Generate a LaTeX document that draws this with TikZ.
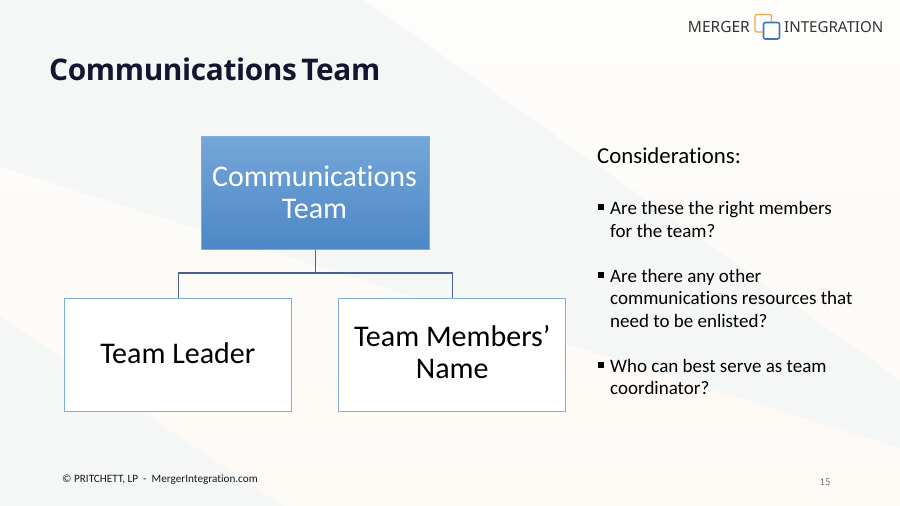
\documentclass[tikz,border=0pt]{standalone}
\usepackage{fontspec}
\setmainfont[Ligatures=NoCommon]{Carlito}
\newfontfamily\sansf[LetterSpace=-1.2,WordSpace=0.6]{Open Sans}
\newfontfamily\logof{Noto Sans}
\definecolor{bggrey}{HTML}{F5F6F6}
\definecolor{bgtop}{HTML}{FDFDFB}
\definecolor{bgbot}{HTML}{FDF9F5}
\definecolor{titlec}{HTML}{14152F}
\definecolor{boxedge}{HTML}{7FAEDD}
\definecolor{linkc}{HTML}{4A6291}
\definecolor{topgrad}{HTML}{75A6D8}
\definecolor{midgrad}{HTML}{5C9AD6}
\definecolor{botgrad}{HTML}{4C87C6}
\definecolor{logoorange}{HTML}{F5A94A}
\definecolor{logoblue}{HTML}{3F79B5}
\tikzset{
  x=1pt,y=-1pt,
  boxlabel/.style={inner sep=0pt,align=center,font=\fontsize{30}{32.5}\selectfont},
  whitebox/.style={draw=boxedge,line width=1pt,fill=white,minimum width=227pt,minimum height=113pt,inner sep=0pt},
  topbox/.style={draw=boxedge,line width=1pt,top color=topgrad,middle color=midgrad,bottom color=botgrad,minimum width=228pt,minimum height=113pt,inner sep=0pt},
  link/.style={draw=linkc,line width=1.1pt},
  bodytext/.style={anchor=north west,inner sep=0pt,align=left,font=\fontsize{19}{22.5}\selectfont,text=black},
  bullet/.style={fill=black,minimum size=5.5pt,inner sep=0pt}
}
\begin{document}
\begin{tikzpicture}
\useasboundingbox (0,0) rectangle (900,506);
\shade[top color=bgtop,bottom color=bgbot] (0,0) rectangle (900,506);
\fill[bggrey] (0,0) -- (364,0) -- (900,380) -- (900,448) -- (0,167) -- cycle;
\fill[bggrey] (0,317) -- (283,506) -- (0,506) -- cycle;
\node[anchor=west,inner sep=0pt,font=\sansf\bfseries\fontsize{29.8}{33}\selectfont,text=titlec] (title) at (49,69) {Communications Team};
\node[topbox,label={[boxlabel,text=white,xshift=-1pt,yshift=0.5pt]center:Communications\\Team}] (top) at (315.5,193) {};
\node[whitebox,label={[boxlabel,text=black,xshift=-0.5pt,yshift=1.5pt]center:Team Leader}] (lead) at (178.3,354.5) {};
\node[whitebox,label={[boxlabel,text=black,yshift=2.5pt]center:Team Members’\\Name}] (memb) at (452.2,354.5) {};
\coordinate (hub) at (315.5,273);
\draw[link] (top.south) -- (hub);
\draw[link] (lead.north) |- (hub) -| (memb.north);
\node[bodytext,font=\fontsize{22.8}{26}\selectfont] (cons) at (597,147.5) {Considerations:};
\node[bullet] (b1) at (601,207) {};
\node[bodytext] (t1) at (610,201.5) {Are these the right members\\for the team?};
\node[bullet] (b2) at (601,275) {};
\node[bodytext] (t2) at (610,269) {Are there any other\\communications resources that\\need to be enlisted?};
\node[bullet] (b3) at (601,365) {};
\node[bodytext] (t3) at (610,359) {Who can best serve as team\\coordinator?};
\node[anchor=west,inner sep=0pt,font=\fontsize{11.2}{14}\selectfont,text=black!90] (foot) at (62,479.5) {© PRITCHETT, LP\ \ -\ \ MergerIntegration.com};
\node[inner sep=0pt,font=\fontsize{10.5}{12}\selectfont,text=black!55] (page) at (825,482.5) {15};
\node[anchor=east,inner sep=0pt,font=\logof\fontsize{15.5}{18}\selectfont,text=black!80] (lg1) at (750,27) {MERGER};
\node[anchor=west,inner sep=0pt,font=\logof\fontsize{15.1}{18}\selectfont,text=black!80] (lg2) at (784,27) {INTEGRATION};
\draw[draw=logoorange,line width=1.4pt,rounded corners=2pt] (755,14.5) rectangle (771.5,32);
\draw[draw=logoblue,fill=bgtop,line width=1.6pt,rounded corners=2pt] (763.5,22.5) rectangle (779.5,39);
\end{tikzpicture}
\end{document}
